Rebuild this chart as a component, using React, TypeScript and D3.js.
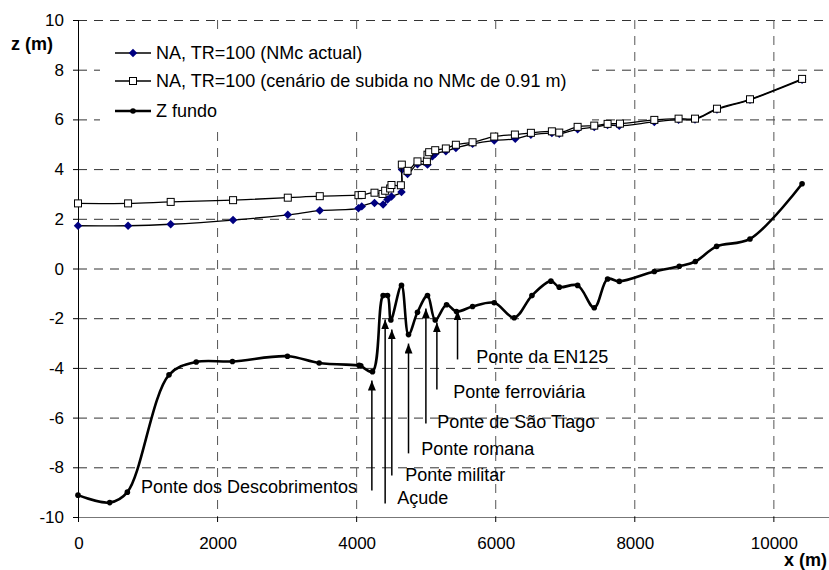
import { useEffect, useRef } from "react";
import * as d3 from "d3";

type Pt = [number, number];

// [x (m), z (m)]
const naActual: Pt[] = [
  [0, 1.72], [720, 1.72], [1333, 1.78], [2230, 1.95], [3017, 2.16], [3477, 2.33],
  [4033, 2.42], [4081, 2.5], [4264, 2.64], [4388, 2.58], [4451, 2.78], [4508, 2.9],
  [4652, 3.08], [4660, 3.98], [4739, 3.8], [4882, 4.2], [5026, 4.18], [5098, 4.52],
  [5137, 4.62], [5290, 4.72], [5434, 4.85], [5674, 5.02], [5986, 5.15], [6288, 5.22],
  [6513, 5.38], [6815, 5.45], [6921, 5.42], [7185, 5.6], [7424, 5.69], [7616, 5.77],
  [7784, 5.74], [8288, 5.9], [8637, 5.99], [8873, 6.0], [9189, 6.4], [9664, 6.79],
  [10413, 7.6],
];

const naSubida: Pt[] = [
  [0, 2.62], [720, 2.62], [1333, 2.68], [2230, 2.75], [3017, 2.85], [3477, 2.91],
  [4033, 2.95], [4081, 2.96], [4264, 3.05], [4379, 3.0], [4417, 3.13], [4489, 3.22],
  [4508, 3.36], [4643, 3.35], [4657, 4.18], [4739, 3.93], [4882, 4.31], [5017, 4.32],
  [5026, 4.58], [5050, 4.68], [5137, 4.76], [5290, 4.83], [5434, 4.98], [5674, 5.08],
  [5986, 5.31], [6283, 5.39], [6513, 5.46], [6815, 5.52], [6921, 5.47], [7185, 5.7],
  [7424, 5.75], [7616, 5.82], [7794, 5.83], [8288, 5.98], [8637, 6.03], [8873, 6.03],
  [9189, 6.43], [9664, 6.81], [10413, 7.63],
];

const zFundo: Pt[] = [
  [0, -9.12], [456, -9.42], [710, -9.0], [1309, -4.28], [1700, -3.76], [2221, -3.74],
  [3012, -3.53], [3468, -3.8], [4043, -3.9], [4067, -3.92], [4235, -4.15], [4388, -1.09],
  [4451, -1.09], [4499, -2.07], [4652, -0.68], [4753, -2.66], [4882, -1.76], [5026, -1.09],
  [5137, -2.07], [5300, -1.46], [5443, -1.73], [5674, -1.53], [5986, -1.38], [6273, -1.98],
  [6528, -1.09], [6801, -0.51], [6921, -0.75], [7185, -0.68], [7424, -1.58], [7616, -0.42],
  [7784, -0.52], [8288, -0.12], [8647, 0.09], [8878, 0.28], [9184, 0.89], [9664, 1.19],
  [10413, 3.41],
];

const xTicks = [0, 2000, 4000, 6000, 8000, 10000];
const yTicks = [-10, -8, -6, -4, -2, 0, 2, 4, 6, 8, 10];

const legendLabels = [
  "NA, TR=100 (NMc actual)",
  "NA, TR=100 (cenário de subida no NMc de 0.91 m)",
  "Z fundo",
];

// arrow at x, from tail z to tip z; label anchored at (lx, lz)
const pontes = [
  { label: "Ponte dos Descobrimentos", x: 4226, tail: -8.93, tip: -4.51, lx: 906, lz: -8.81 },
  { label: "Açude", x: 4417, tail: -9.46, tip: -2.05, lx: 4590, lz: -9.22 },
  { label: "Ponte militar", x: 4513, tail: -8.33, tip: -2.45, lx: 4705, lz: -8.29 },
  { label: "Ponte romana", x: 4753, tail: -7.44, tip: -3.02, lx: 4935, lz: -7.28 },
  { label: "Ponte de São Tiago", x: 5003, tail: -6.24, tip: -1.61, lx: 5165, lz: -6.16 },
  { label: "Ponte ferroviária", x: 5161, tail: -4.87, tip: -2.17, lx: 5396, lz: -4.95 },
  { label: "Ponte da EN125", x: 5458, tail: -3.66, tip: -1.69, lx: 5727, lz: -3.58 },
];

const W = 829;
const H = 570;
const FONT = "'Liberation Sans', Arial, sans-serif";

export default function App() {
  const svgRef = useRef<SVGSVGElement | null>(null);

  useEffect(() => {
    const svgElement = svgRef.current;
    if (!svgElement) return;
    const svg = d3.select(svgElement);
    svg.selectAll("*").remove();

    const margin = { top: 20, right: 0, bottom: 53, left: 78 };
    const xScale = d3.scaleLinear().domain([0, 10800]).range([margin.left, W - margin.right]);
    const yScale = d3.scaleLinear().domain([-10, 10]).range([H - margin.bottom, margin.top]);
    const x0 = xScale(0), x1 = W - margin.right;
    const yb = yScale(-10), yt = yScale(10);

    svg.append("defs")
      .append("marker")
      .attr("id", "arrow")
      .attr("markerUnits", "userSpaceOnUse")
      .attr("markerWidth", 10)
      .attr("markerHeight", 8)
      .attr("refX", 10)
      .attr("refY", 4)
      .attr("orient", "auto")
      .append("path")
      .attr("d", "M0,0L10,4L0,8Z")
      .attr("fill", "#000");

    // grid
    const grid = svg.append("g").attr("stroke", "#333").attr("stroke-width", 1).attr("stroke-dasharray", "9 7");
    yTicks.filter((t) => t !== -10).forEach((t) => {
      grid.append("line").attr("x1", x0).attr("x2", x1).attr("y1", yScale(t) + 0.5).attr("y2", yScale(t) + 0.5);
    });
    xTicks.filter((t) => t !== 0).forEach((t) => {
      grid.append("line").attr("stroke", "#555").attr("x1", xScale(t) + 0.5).attr("x2", xScale(t) + 0.5).attr("y1", yt).attr("y2", yb);
    });

    // legend background
    svg.append("rect").attr("x", 100).attr("y", 36).attr("width", 492).attr("height", 90).attr("fill", "#fff");

    // axes
    const axisG = svg.append("g").attr("font-family", FONT).attr("font-size", 17).attr("fill", "#000");
    axisG.append("line").attr("x1", x0).attr("x2", x1).attr("y1", yb + 0.5).attr("y2", yb + 0.5).attr("stroke", "#777");
    axisG.append("line").attr("x1", x0 + 0.5).attr("x2", x0 + 0.5).attr("y1", yt).attr("y2", yb).attr("stroke", "#000");
    xTicks.forEach((t) => {
      axisG.append("line").attr("x1", xScale(t) + 0.5).attr("x2", xScale(t) + 0.5).attr("y1", yb).attr("y2", yb + 5).attr("stroke", "#000");
      axisG.append("text").attr("x", xScale(t) + 1).attr("y", yb + 32).attr("text-anchor", "middle").text(String(t));
    });
    yTicks.forEach((t) => {
      axisG.append("line").attr("x1", x0 - 5).attr("x2", x0).attr("y1", yScale(t) + 0.5).attr("y2", yScale(t) + 0.5).attr("stroke", "#000");
      axisG.append("text").attr("x", x0 - 14).attr("y", yScale(t) + 6).attr("text-anchor", "end").text(String(t));
    });
    axisG.append("text").attr("x", 11).attr("y", 50).attr("font-weight", "bold").attr("font-size", 18).text("z (m)");
    axisG.append("text").attr("x", 827).attr("y", 566).attr("text-anchor", "end").attr("font-weight", "bold").attr("font-size", 18).text("x (m)");

    const line = d3.line<Pt>()
      .x((d) => xScale(d[0]))
      .y((d) => yScale(d[1]))
      .curve(d3.curveCatmullRom.alpha(0.5));

    const diamond = d3.symbol(d3.symbolDiamond2, 46);

    // NA actual
    svg.append("path").datum(naActual).attr("d", line).attr("fill", "none").attr("stroke", "#000").attr("stroke-width", 1.3);
    svg.append("g").selectAll("path").data(naActual).join("path")
      .attr("transform", (d) => `translate(${xScale(d[0])},${yScale(d[1])})`)
      .attr("d", diamond()!)
      .attr("fill", "#000080");

    // NA subida
    svg.append("path").datum(naSubida).attr("d", line).attr("fill", "none").attr("stroke", "#000").attr("stroke-width", 1.3);
    svg.append("g").selectAll("rect").data(naSubida).join("rect")
      .attr("x", (d) => xScale(d[0]) - 3.5)
      .attr("y", (d) => yScale(d[1]) - 3.5)
      .attr("width", 7).attr("height", 7)
      .attr("fill", "#fff").attr("stroke", "#000").attr("stroke-width", 1);

    // Z fundo
    svg.append("path").datum(zFundo).attr("d", line).attr("fill", "none").attr("stroke", "#000").attr("stroke-width", 2.6);
    svg.append("g").selectAll("circle").data(zFundo).join("circle")
      .attr("cx", (d) => xScale(d[0])).attr("cy", (d) => yScale(d[1])).attr("r", 2.8).attr("fill", "#000");

    // bridge annotations
    const ann = svg.append("g").attr("font-family", FONT).attr("font-size", 18);
    pontes.forEach((p) => {
      ann.append("line")
        .attr("x1", xScale(p.x)).attr("x2", xScale(p.x))
        .attr("y1", yScale(p.tail)).attr("y2", yScale(p.tip))
        .attr("stroke", "#000").attr("stroke-width", 1.5)
        .attr("marker-end", "url(#arrow)");
      ann.append("text").attr("x", xScale(p.lx)).attr("y", yScale(p.lz) + 6).text(p.label);
    });

    // legend
    const lg = svg.append("g").attr("font-family", FONT).attr("font-size", 18);
    const rows = [53, 81, 111];
    legendLabels.forEach((label, i) => {
      const y = rows[i];
      lg.append("line").attr("x1", 115).attr("x2", 151).attr("y1", y).attr("y2", y)
        .attr("stroke", "#000").attr("stroke-width", i === 2 ? 2.6 : 1.3);
      if (i === 0) lg.append("path").attr("transform", `translate(133,${y})`).attr("d", diamond()!).attr("fill", "#000080");
      if (i === 1) lg.append("rect").attr("x", 129.5).attr("y", y - 3.5).attr("width", 7).attr("height", 7).attr("fill", "#fff").attr("stroke", "#000");
      if (i === 2) lg.append("circle").attr("cx", 133).attr("cy", y).attr("r", 2.8).attr("fill", "#000");
      lg.append("text").attr("x", 156).attr("y", y + 6).text(label);
    });
  }, []);

  return (
    <div style={{ position: "absolute", left: 0, top: 0 }}>
      <svg ref={svgRef} width={W} height={H} style={{ display: "block", background: "#fff" }} />
    </div>
  );
}
